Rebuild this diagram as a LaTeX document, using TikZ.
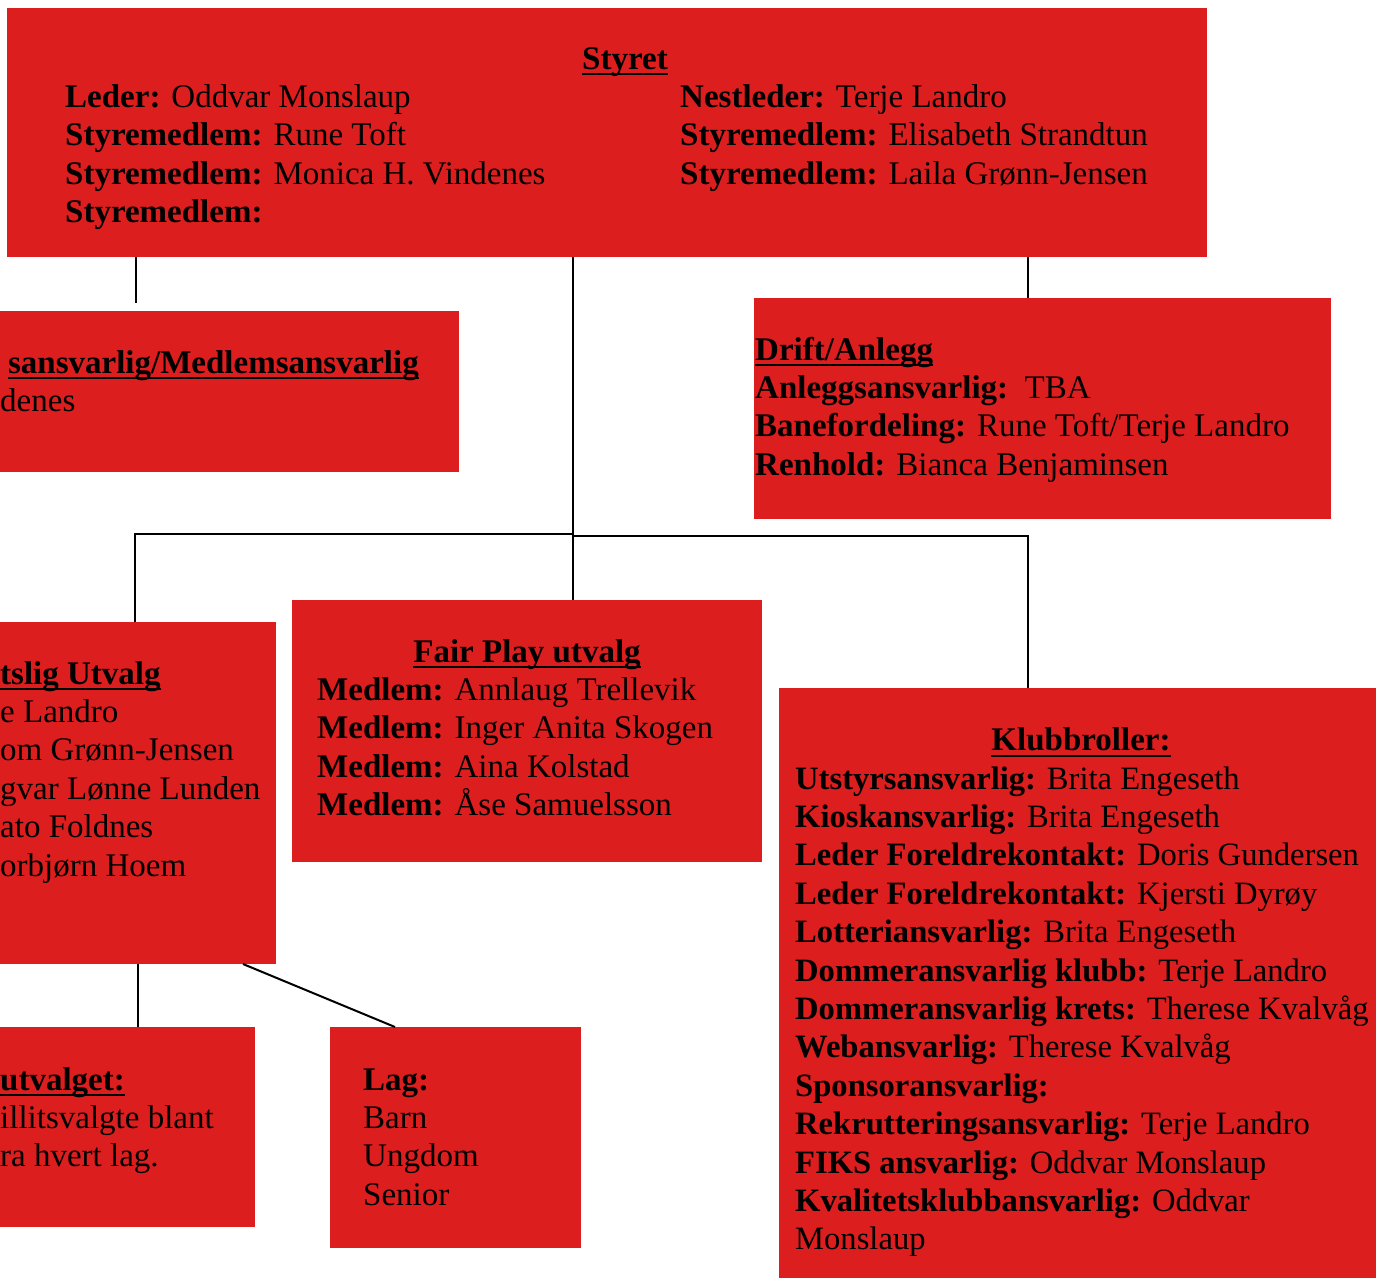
\documentclass[tikz,border=0pt]{standalone}
\usepackage{fontspec}
\setmainfont{Liberation Serif}
\newsavebox{\headsave}
\newcommand{\headline}[1]{\sbox{\headsave}{\textbf{#1}}\rlap{\rule[-5.9pt]{\wd\headsave}{1.8pt}}\usebox{\headsave}}
\definecolor{boxred}{RGB}{220,30,30}
\tikzset{box/.style={fill=boxred, draw=none, inner sep=0pt, outer sep=0pt, anchor=north west},
  txt/.style={align=left, inner sep=0pt, font=\fontsize{33}{38.4}\selectfont},
  link/.style={draw=black, line width=2pt}}

\begin{document}
\begin{tikzpicture}[x=1pt, y=-1pt]
\useasboundingbox (0,0) rectangle (1376,1277);
\clip (0,0) rectangle (1376,1277);
% boxes
\node[box, minimum width=1200, minimum height=249] (styret) at (7,8) {};
\node[box, minimum width=519, minimum height=161] (medlem) at (-60,311) {};
\node[box, minimum width=577, minimum height=221] (drift) at (754,298) {};
\node[box, minimum width=336, minimum height=342] (sport) at (-60,622) {};
\node[box, minimum width=470, minimum height=262] (fair) at (292,600) {};
\node[box, minimum width=650, minimum height=650] (klubb) at (779,688) {};
\node[box, minimum width=315, minimum height=200] (utvalg) at (-60,1027) {};
\node[box, minimum width=251, minimum height=221] (lag) at (330,1027) {};
% text (base = baseline of the last line)
\node[txt, anchor=base] (styret-head) at (625,69) {\headline{Styret}};
\node[txt, anchor=base west] (styret-left) at (65,222.6) {\textbf{Leder:} Oddvar Monslaup\\
  \textbf{Styremedlem:} Rune Toft\\ \textbf{Styremedlem:} Monica H. Vindenes\\ \textbf{Styremedlem:}};
\node[txt, anchor=base west] (styret-right) at (680,184.2) {\textbf{Nestleder:} Terje Landro\\
  \textbf{Styremedlem:} Elisabeth Strandtun\\ \textbf{Styremedlem:} Laila Grønn-Jensen};
\node[txt, anchor=base east] (medlem-head) at (419,373) {\headline{sansvarlig/Medlemsansvarlig}};
\node[txt, anchor=base west] (medlem-txt) at (0,411) {denes};
\node[txt, anchor=base west] (drift-txt) at (755,475.2) {\headline{Drift/Anlegg}\\
  \textbf{Anleggsansvarlig:}\ \ TBA\\ \textbf{Banefordeling:} Rune Toft/Terje Landro\\
  \textbf{Renhold:} Bianca Benjaminsen};
\node[txt, anchor=base west] (sport-txt) at (0,876) {\headline{tslig Utvalg}\\ e Landro\\
  om Grønn-Jensen\\ gvar Lønne Lunden\\ ato Foldnes\\ orbjørn Hoem};
\node[txt, anchor=base] (fair-head) at (527,662) {\headline{Fair Play utvalg}};
\node[txt, anchor=base west] (fair-txt) at (317,815.7) {\textbf{Medlem:} Annlaug Trellevik\\
  \textbf{Medlem:} Inger Anita Skogen\\ \textbf{Medlem:} Aina Kolstad\\ \textbf{Medlem:} Åse Samuelsson};
\node[txt, anchor=base] (klubb-head) at (1081,750.6) {\headline{Klubbroller:}};
\node[txt, anchor=base west, font=\fontsize{32.6}{38.4}\selectfont] (klubb-txt) at (795,1249.8) {\textbf{Utstyrsansvarlig:} Brita Engeseth\\
  \textbf{Kioskansvarlig:} Brita Engeseth\\
  \textbf{Leder Foreldrekontakt:} Doris Gundersen\\
  \textbf{Leder Foreldrekontakt:} Kjersti Dyrøy\\
  \textbf{Lotteriansvarlig:} Brita Engeseth\\
  \textbf{Dommeransvarlig klubb:} Terje Landro\\
  \textbf{Dommeransvarlig krets:} Therese Kvalvåg\\
  \textbf{Webansvarlig:} Therese Kvalvåg\\
  \textbf{Sponsoransvarlig:}\\
  \textbf{Rekrutteringsansvarlig:} Terje Landro\\
  \textbf{FIKS ansvarlig:} Oddvar Monslaup\\
  \textbf{Kvalitetsklubbansvarlig:} Oddvar\\ Monslaup};
\node[txt, anchor=base west] (utvalg-txt) at (0,1166.8) {\headline{utvalget:}\\
  illitsvalgte blant\\ ra hvert lag.};
\node[txt, anchor=base west] (lag-txt) at (363,1205.2) {\textbf{Lag:}\\ Barn\\ Ungdom\\ Senior};
% connectors
\coordinate (x1) at (136,0);
\coordinate (x2) at (573,0);
\coordinate (x3) at (1028,0);
\coordinate (x4) at (135,0);
\coordinate (x5) at (138,0);
\coordinate (x6) at (243,0);
\coordinate (x7) at (395,0);
\coordinate (splitL) at (573,534);
\coordinate (splitR) at (573,536);
\draw[link, shorten >=8pt] (styret.south -| x1) -- (medlem.north -| x1);
\draw[link] (styret.south -| x3) -- (drift.north -| x3);
\draw[link] (styret.south -| x2) -- (fair.north -| x2);
\draw[link] (splitL) -| (sport.north -| x4);
\draw[link] (splitR) -| (klubb.north -| x3);
\draw[link] (sport.south -| x5) -- (utvalg.north -| x5);
\draw[link] (sport.south -| x6) -- (lag.north -| x7);
\end{tikzpicture}
\end{document}
